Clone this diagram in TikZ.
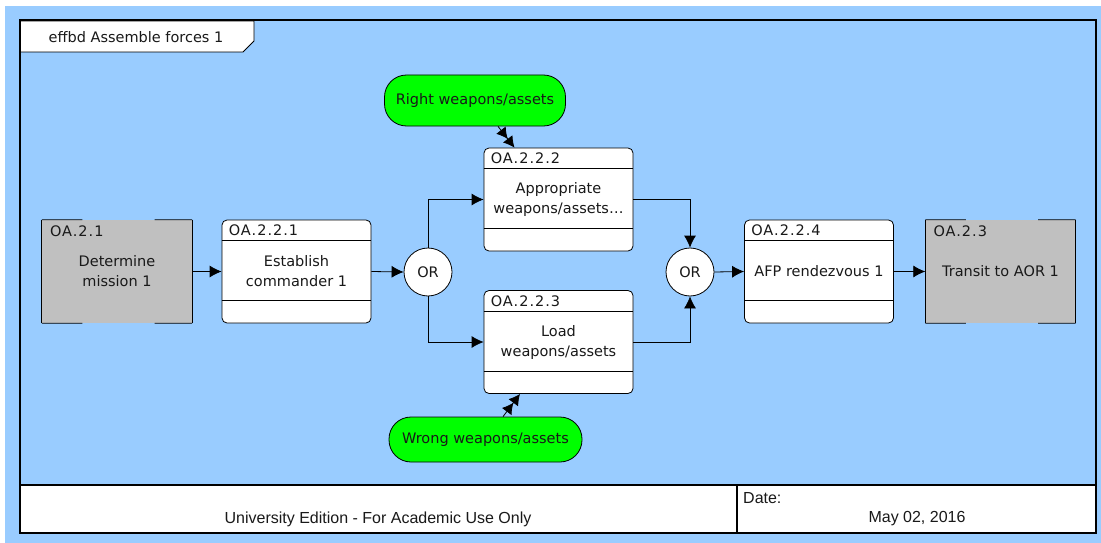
\documentclass[tikz,border=0pt]{standalone}
\usepackage{fontspec}
\setmainfont{DejaVu Sans}
\newfontfamily\footfont{Liberation Sans}
\newfontfamily\idfont[LetterSpace=7]{DejaVu Sans}
\usetikzlibrary{arrows.meta,calc}
\definecolor{bgblue}{HTML}{99CCFF}
\definecolor{extgray}{HTML}{C0C0C0}
\definecolor{tokgreen}{HTML}{00FF00}
\begin{document}
\begin{tikzpicture}[x=1pt,y=-1pt,
  every node/.style={font=\fontsize{14.5}{20}\selectfont, inner sep=0pt, text=black!90},
  fnbox/.style={draw=black, fill=white, rounded corners=5pt, minimum width=149pt, minimum height=103pt, line width=0.8pt, align=center},
  extbox/.style={fill=extgray, minimum width=150pt, minimum height=103pt, align=center},
  idtext/.style={anchor=west, font=\idfont\fontsize{14.5}{17}\selectfont},
  orgate/.style={circle, draw=black, fill=white, minimum size=48pt, line width=0.8pt},
  token/.style={draw=black, fill=tokgreen, rounded corners=22pt, line width=0.8pt},
  flow/.style={draw=black, line width=0.8pt, -{Latex[length=12pt,width=12pt]}},
  trig/.style={draw=black, line width=0.8pt, -{Latex[length=11pt,width=12pt] Latex[length=11pt,width=12pt]}},
  foot/.style={font=\footfont\fontsize{16}{19}\selectfont},
  frame/.style={draw=black, line width=2.5pt}]
\useasboundingbox (0,0) rectangle (1101,543);
% backgrounds
\fill[white] (0,0) rectangle (1101,543);
\fill[bgblue] (5,6) rectangle (1101,543);
\fill[white] (20,485) rectangle (1096,533);
% title tab
\filldraw[fill=white, draw=black, line width=0.8pt] (20,21) -- (254,21) -- (254,41) -- (243,52) -- (20,52) -- cycle;
\node (title) at (136,37) {effbd Assemble forces 1};
% frame
\draw[frame] (20,20) rectangle (1096,533);
\draw[black, line width=2pt] (20,485) -- (1096,485);
\draw[black, line width=2pt] (737,485) -- (737,533);
\node[foot] (uni) at (378,519) {University Edition - For Academic Use Only};
\node[foot, anchor=west] (date) at (743,498) {Date:};
\node[foot] (dateval) at (917,519) {May 02, 2016};

% external functions (gray)
\node[extbox] (e21) at (117,271.5) {Determine\\mission 1};
\node[extbox] (e23) at (1000.5,271.5) {Transit to AOR 1};
\foreach \n in {e21,e23}{
  \draw[black, line width=0.8pt] (\n.north west) -- (\n.south west);
  \draw[black, line width=0.8pt] (\n.north east) -- (\n.south east);
  \draw[black, line width=0.8pt] (\n.north west) -- ($(\n.north west)!0.27!(\n.north east)$);
  \draw[black, line width=0.8pt] ($(\n.north west)!0.75!(\n.north east)$) -- (\n.north east);
  \draw[black, line width=0.8pt] (\n.south west) -- ($(\n.south west)!0.27!(\n.south east)$);
  \draw[black, line width=0.8pt] ($(\n.south west)!0.75!(\n.south east)$) -- (\n.south east);
}
\node[idtext] (e21id) at ($(e21.north west)+(8,11)$) {OA.2.1};
\node[idtext] (e23id) at ($(e23.north west)+(8,11)$) {OA.2.3};

% functions
\node[fnbox] (f221) at (296.5,271.5) {Establish\\commander 1};
\node[fnbox] (f222) at (558.5,199.5) {Appropriate\\weapons/assets…};
\node[fnbox] (f223) at (558.5,342) {Load\\weapons/assets};
\node[fnbox] (f224) at (819,271.5) {AFP rendezvous 1};
\foreach \n/\t in {f221/OA.2.2.1,f222/OA.2.2.2,f223/OA.2.2.3,f224/OA.2.2.4}{
  \draw[black, line width=0.8pt] ($(\n.north west)+(0,21)$) -- ($(\n.north east)+(0,21)$);
  \draw[black, line width=0.8pt] ($(\n.south west)+(0,-23)$) -- ($(\n.south east)+(0,-23)$);
  \node[idtext] (\n id) at ($(\n.north west)+(7,11)$) {\t};
}

% OR gates
\node[orgate] (or1) at (428,272) {OR};
\node[orgate] (or2) at (690,272) {OR};

% tokens
\node[token, minimum width=181pt, minimum height=51pt] (right) at (475,100.5) {Right weapons/assets};
\node[token, minimum width=193pt, minimum height=45pt] (wrong) at (485.5,439.5) {Wrong weapons/assets};

% connectors
\draw[flow] (e21.east) -- (f221.west);
\draw[flow] (f221.east) -- (or1.west);
\draw[flow] (or1.north) |- (f222.west);
\draw[flow] (or1.south) |- (f223.west);
\draw[flow] (f222.east) -| (or2.north);
\draw[flow] (f223.east) -| (or2.south);
\draw[flow] (or2.east) -- (f224.west);
\draw[flow] (f224.east) -- (e23.west);
\draw[trig] ($(right.south)+(23,0)$) -- ($(f222.north)+(-44,0)$);
\draw[trig] ($(wrong.north)+(17.5,0)$) -- ($(f223.south)+(-38.5,0)$);
\end{tikzpicture}
\end{document}
